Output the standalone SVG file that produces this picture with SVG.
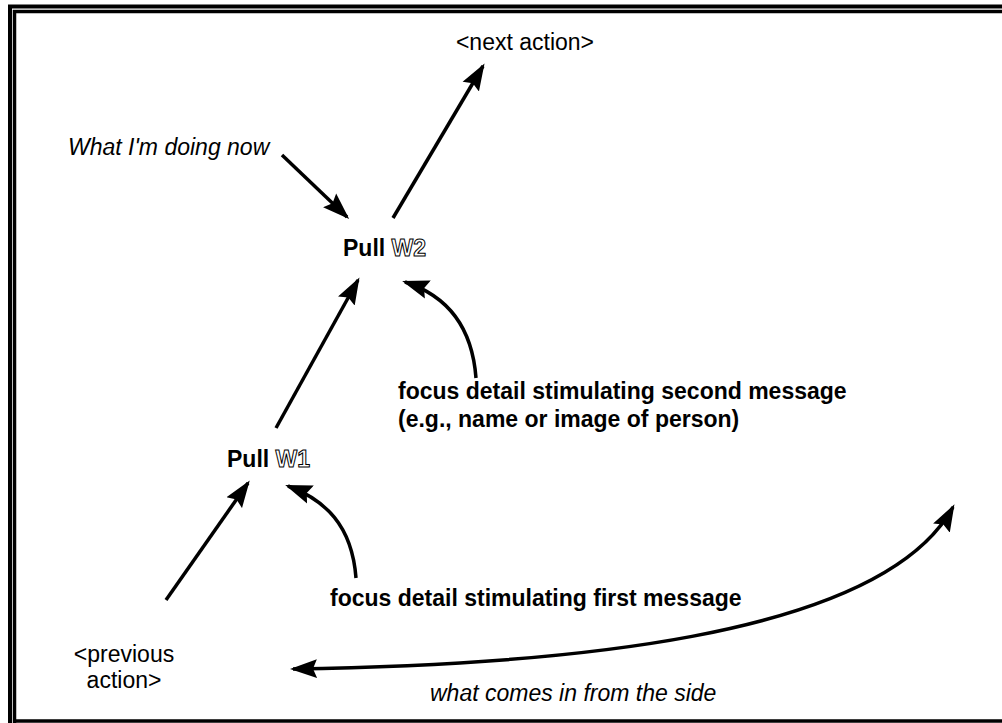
<svg xmlns="http://www.w3.org/2000/svg" width="1002" height="723" viewBox="0 0 1002 723">
<style>
.t{font-family:"Liberation Sans",Arial,sans-serif;font-size:23px;fill:#000}
.b{font-weight:bold}
.i{font-style:italic}
.o{fill:#fff;stroke:#000;stroke-width:1}
.c{fill:none;stroke:#000;stroke-width:3.5}
</style>
<defs>
<marker id="ah" markerUnits="userSpaceOnUse" markerWidth="28" markerHeight="20" refX="24" refY="9.5" orient="auto-start-reverse" viewBox="0 0 28 19">
<path d="M0,0 L27,9.5 L0,19 L4,9.5 z" fill="#000"/>
</marker>
</defs>
<g id="frame" fill="none" stroke="#000">
<path d="M10,723 V6.5 H1002" stroke-width="4"/>
<path d="M14.5,723 V11.5 H1002 M13,721 H1002" stroke-width="3.5"/>
</g>
<g id="connectors">
<path class="c" d="M393,218 L483,66" marker-end="url(#ah)"/>
<path class="c" d="M282,155 L347,217" marker-end="url(#ah)"/>
<path class="c" d="M276,428 L358,280" marker-end="url(#ah)"/>
<path class="c" d="M476,378 C472,325 445,295 405,282" marker-end="url(#ah)"/>
<path class="c" d="M166,600 L248,483" marker-end="url(#ah)"/>
<path class="c" d="M356,578 C352,525 325,500 288,486" marker-end="url(#ah)"/>
<path class="c" d="M293,669 C550,665 880,640 953,507" marker-start="url(#ah)" marker-end="url(#ah)"/>
</g>
<g id="next"><text class="t" x="525" y="50" text-anchor="middle">&lt;next action&gt;</text></g>
<g id="doing"><text class="t i" x="68" y="155">What I'm doing now</text></g>
<g id="w2"><text class="t b" x="343" y="256">Pull <tspan class="o">W2</tspan></text></g>
<g id="w1"><text class="t b" x="227" y="467">Pull <tspan class="o">W1</tspan></text></g>
<g id="second"><text class="t b" x="398" y="399">focus detail stimulating second message</text><text class="t b" x="398" y="427">(e.g., name or image of person)</text></g>
<g id="first"><text class="t b" x="330" y="606">focus detail stimulating first message</text></g>
<g id="prev"><text class="t" x="124" y="662" text-anchor="middle">&lt;previous</text><text class="t" x="124" y="688" text-anchor="middle">action&gt;</text></g>
<g id="side"><text class="t i" x="430" y="701">what comes in from the side</text></g>
</svg>
